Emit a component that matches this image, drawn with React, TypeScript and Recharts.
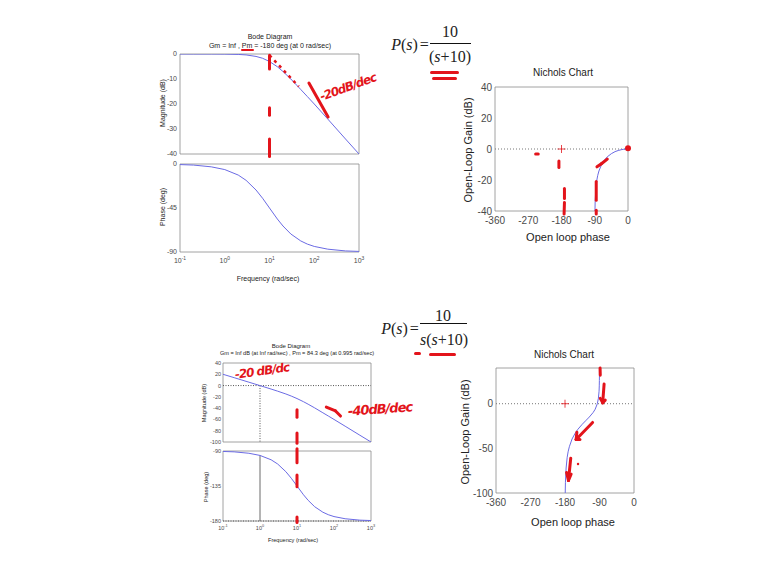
import React from 'react';
import { LineChart, Line, XAxis, YAxis, ReferenceLine, ReferenceArea, ReferenceDot } from 'recharts';

// ---------------- data ----------------
// Plant 1: P(s) = 10/(s+10)
const bodeFreq1 = [0.1, 0.2, 0.5, 1, 2, 3, 5, 7, 10, 15, 20, 30, 50, 70, 100, 200, 500, 1000];
const bodeMag1 = [0, -0.01, -0.01, -0.04, -0.17, -0.37, -0.97, -1.7, -3.0, -5.1, -7.0, -10.0, -14.2, -17.0, -20.0, -26.0, -34.0, -40.0];
const bodePhase1 = [-0.6, -1.1, -2.9, -5.7, -11.3, -16.7, -26.6, -35.0, -45.0, -56.3, -63.4, -71.6, -78.7, -81.9, -84.3, -87.1, -88.9, -89.4];

// Plant 2: P(s) = 10/(s(s+10))
const bodeFreq2 = [0.1, 0.2, 0.5, 1, 2, 3, 5, 7, 10, 15, 20, 30, 50, 70, 100, 200, 500, 1000];
const bodeMag2 = [20, 14.0, 6.0, -0.04, -6.2, -9.9, -14.9, -18.6, -23.0, -28.6, -33.0, -39.5, -48.2, -53.9, -60.0, -72.0, -88.0, -100.0];
const bodePhase2 = [-90.6, -91.1, -92.9, -95.7, -101.3, -106.7, -116.6, -125.0, -135.0, -146.3, -153.4, -161.6, -168.7, -171.9, -174.3, -177.1, -178.9, -179.4];

// Nichols curves (phase, gain)
const nicholsPhase1 = [-0.1, -0.6, -1.1, -2.9, -5.7, -11.3, -16.7, -26.6, -35.0, -45.0, -56.3, -63.4, -71.6, -78.7, -81.9, -84.3, -87.1, -88.9, -89.4];
const nicholsGain1 = [0, 0, -0.01, -0.01, -0.04, -0.17, -0.37, -0.97, -1.7, -3.0, -5.1, -7.0, -10.0, -14.2, -17.0, -20.0, -26.0, -34.0, -40.0];
const nicholsPhase2 = [-90.06, -90.1, -90.3, -90.6, -91.1, -92.9, -95.7, -101.3, -106.7, -116.6, -125.0, -135.0, -146.3, -153.4, -161.6, -168.7, -171.9, -174.3, -177.1, -178.9, -179.4];
const nicholsGain2 = [40, 34, 26, 20, 14.0, 6.0, -0.04, -6.2, -9.9, -14.9, -18.6, -23.0, -28.6, -33.0, -39.5, -48.2, -53.9, -60.0, -72.0, -88.0, -100.0];

// ticks
const bodeTicks = [0.1, 1, 10, 100, 1000];
const bodeTickExp = ['-1', '0', '1', '2', '3'];
const magTicks1 = [0, -10, -20, -30, -40];
const phaseTicks1 = [0, -45, -90];
const magTicks2 = [40, 20, 0, -20, -40, -60, -80, -100];
const phaseTicks2 = [-90, -135, -180];
const nicholsXTicks = [-360, -270, -180, -90, 0];
const nicholsYTicks1 = [40, 20, 0, -20, -40];
const nicholsYTicks2 = [0, -50, -100];

// ---------------- styles ----------------
const BLUE = '#6b6be4';
const RED = '#e3141b';
const FRAME = '#8c8c8c';
const TICK = '#4a4a4a';
const SANS = '"Liberation Sans", Arial, sans-serif';
const SERIF = '"Liberation Serif", "Times New Roman", serif';
const HAND = '"DejaVu Sans", sans-serif';

const bode1 = bodeFreq1.map((w, i) => ({ w, mag: bodeMag1[i], ph: bodePhase1[i] }));
const bode2 = bodeFreq2.map((w, i) => ({ w, mag: bodeMag2[i], ph: bodePhase2[i] }));
const nich1 = nicholsPhase1.map((p, i) => ({ p, g: nicholsGain1[i] }));
const nich2 = nicholsPhase2.map((p, i) => ({ p, g: nicholsGain2[i] }));

type Box = { l: number; t: number; w: number; h: number };
type M = { l: number; t: number; r: number; b: number };

function wrap(b: Box, m: M) {
  return {
    style: { position: 'absolute' as const, left: b.l - m.l, top: b.t - m.t },
    width: b.w + m.l + m.r,
    height: b.h + m.t + m.b,
    margin: { top: m.t, right: m.r, left: 0, bottom: 0 },
  };
}

function T({ x, y, size, children, rotate = 0, color = '#222', family = SANS, style = {} }: any) {
  return (
    <div
      style={{
        position: 'absolute',
        left: x,
        top: y,
        transform: `translate(-50%, -50%) rotate(${rotate}deg)`,
        fontSize: size,
        lineHeight: 1,
        whiteSpace: 'nowrap',
        color,
        fontFamily: family,
        ...style,
      }}
    >
      {children}
    </div>
  );
}

function Bar({ x, y, w, h = 3, color = RED, rotate = 0 }: any) {
  return (
    <div
      style={{
        position: 'absolute',
        left: x,
        top: y,
        width: w,
        height: h,
        background: color,
        borderRadius: h,
        transform: `rotate(${rotate}deg)`,
      }}
    />
  );
}

const makeLogTick = (fs: number) => (props: any) => {
  const { x, y, payload, index } = props;
  const idx = index != null ? index : bodeTicks.indexOf(payload.value);
  return (
    <text x={x} y={y + fs * 0.85} textAnchor="middle" fontSize={fs} fill={TICK} fontFamily={SANS}>
      10
      <tspan dy={-fs * 0.45} fontSize={fs * 0.7}>
        {bodeTickExp[idx]}
      </tspan>
    </text>
  );
};

const Plus = (props: any) => {
  const { cx, cy } = props;
  return (
    <g stroke={RED} strokeWidth={0.8}>
      <line x1={cx - 4} y1={cy} x2={cx + 4} y2={cy} />
      <line x1={cx} y1={cy - 4} x2={cx} y2={cy + 4} />
    </g>
  );
};

// ---------------- annotation positions (data coordinates) ----------------
const redMag1 = [
  [[10, -0.5], [10, -6]],
  [[10, -21.5], [10, -24.5]],
  [[10, -34], [10, -41]],
  [[76, -11.6], [204, -25.2]],
];
const redNich1 = [
  [[-250, -3.2], [-243, -3.2]],
  [[-187, -7.7], [-187, -12]],
  [[-172, -25.5], [-172, -32]],
  [[-172, -34.5], [-173, -42]],
  [[-86, -21], [-86, -33]],
  [[-86, -39.5], [-86, -42]],
  [[-84, -11.5], [-72, -9.5]],
  [[-72, -9.5], [-56, -6.5]],
];
const redMag2 = [
  [[10, -43], [10, -56]],
  [[10, -84], [10, -102]],
  [[62, -38], [110, -45]],
  [[110, -45], [150, -54]],
];
const redPhase2 = [
  [[10, -87], [10, -105]],
  [[10, -121], [10, -136]],
  [[10, -175], [10, -182]],
];
const redNich2 = [
  [[-88.5, 40], [-88, 32]],
  [[-78, 22], [-81.5, 2]],
  [[-81.5, 1], [-88, 6]],
  [[-81.5, 1], [-75, 4]],
  [[-108, -21], [-151, -40]],
  [[-151, -40], [-149, -32]],
  [[-151, -40], [-141, -40]],
  [[-165, -61], [-171, -86]],
  [[-171, -86], [-176, -77]],
  [[-171, -86], [-164, -79]],
];

function redSegs(list: number[][][], w = 3) {
  return list.map((s, i) => (
    <ReferenceLine
      key={'r' + i}
      segment={[{ x: s[0][0], y: s[0][1] }, { x: s[1][0], y: s[1][1] }]}
      stroke={RED}
      strokeWidth={w}
      strokeLinecap="round"
      ifOverflow="visible"
    />
  ));
}

export default function App() {
  const fsB1 = 7;
  const fsB2 = 5.5;
  const fsN = 10;

  const m1 = wrap({ l: 180, t: 54, w: 179, h: 100 }, { l: 24, t: 4, r: 10, b: 4 });
  const p1 = wrap({ l: 180, t: 164, w: 179, h: 88 }, { l: 24, t: 4, r: 10, b: 16 });
  const n1 = wrap({ l: 495, t: 87, w: 133, h: 124 }, { l: 32, t: 6, r: 10, b: 22 });
  const m2 = wrap({ l: 223, t: 363, w: 148, h: 79 }, { l: 20, t: 4, r: 10, b: 4 });
  const p2 = wrap({ l: 223, t: 451, w: 148, h: 70 }, { l: 20, t: 4, r: 10, b: 14 });
  const n2 = wrap({ l: 496, t: 368, w: 138, h: 125 }, { l: 32, t: 6, r: 10, b: 22 });

  const yTick = (fs: number) => ({ fontSize: fs, fill: TICK, fontFamily: SANS });
  const hand = { fontStyle: 'italic', fontWeight: 'bold', letterSpacing: -1 };

  return (
    <div style={{ position: 'absolute', left: 0, top: 0, width: 767, height: 575, background: '#fff', overflow: 'hidden' }}>
      {/* ---------- top Bode ---------- */}
      <T x={270} y={36} size={7}>Bode Diagram</T>
      <T x={270} y={45} size={7}>Gm = Inf ,  Pm = -180 deg (at 0 rad/sec)</T>
      <T x={162} y={103} size={7} rotate={-90}>Magnitude (dB)</T>
      <T x={162} y={207} size={7} rotate={-90}>Phase (deg)</T>
      <T x={268} y={278} size={7}>Frequency  (rad/sec)</T>

      <div style={m1.style}>
        <LineChart width={m1.width} height={m1.height} data={bode1} margin={m1.margin}>
          <XAxis dataKey="w" type="number" scale="log" domain={[0.1, 1000]} ticks={bodeTicks} allowDataOverflow height={4} tick={false} tickLine={false} axisLine={false} />
          <YAxis type="number" domain={[-40, 0]} ticks={magTicks1} interval={0} allowDataOverflow width={24} tick={yTick(fsB1)} tickLine={false} axisLine={false} tickSize={0} tickMargin={3} />
          <ReferenceArea x1={0.1} x2={1000} y1={-40} y2={0} fill="none" stroke={FRAME} strokeWidth={0.8} ifOverflow="visible" />
          <Line dataKey="mag" stroke={BLUE} strokeWidth={1} dot={false} isAnimationActive={false} />
          <ReferenceLine segment={[{ x: 10, y: -0.5 }, { x: 45, y: -13 }]} stroke={RED} strokeWidth={2.5} strokeDasharray="3 4" ifOverflow="visible" />
          {redSegs(redMag1)}
        </LineChart>
      </div>
      <div style={p1.style}>
        <LineChart width={p1.width} height={p1.height} data={bode1} margin={p1.margin}>
          <XAxis dataKey="w" type="number" scale="log" domain={[0.1, 1000]} ticks={bodeTicks} interval={0} allowDataOverflow height={16} tick={makeLogTick(fsB1)} tickLine={false} axisLine={false} tickSize={0} tickMargin={5} />
          <YAxis type="number" domain={[-90, 0]} ticks={phaseTicks1} interval={0} allowDataOverflow width={24} tick={yTick(fsB1)} tickLine={false} axisLine={false} tickSize={0} tickMargin={3} />
          <ReferenceArea x1={0.1} x2={1000} y1={-90} y2={0} fill="none" stroke={FRAME} strokeWidth={0.8} ifOverflow="visible" />
          <Line dataKey="ph" stroke={BLUE} strokeWidth={1} dot={false} isAnimationActive={false} />
        </LineChart>
      </div>
      <Bar x={241} y={49} w={13} h={2} />
      <T x={348} y={87} size={12} rotate={-20} color={RED} family={HAND} style={hand}>-20dB/dec</T>

      {/* ---------- top equation ---------- */}
      <T x={410} y={45} size={16} family={SERIF}><i>P</i>(<i>s</i>)<span style={{ marginLeft: 2 }}>=</span></T>
      <T x={450} y={32} size={16} family={SERIF}>10</T>
      <div style={{ position: 'absolute', left: 430, top: 43, width: 41, height: 1, background: '#111' }} />
      <T x={450} y={57} size={16} family={SERIF}>(<i>s</i>+10)</T>
      <Bar x={430} y={71} w={29} h={3} />
      <Bar x={432} y={77} w={25} h={3} />

      {/* ---------- top Nichols ---------- */}
      <T x={563} y={73} size={fsN}>Nichols Chart</T>
      <T x={568} y={237} size={11}>Open loop phase</T>
      <T x={468} y={150} size={11} rotate={-90}>Open-Loop Gain (dB)</T>
      <div style={n1.style}>
        <LineChart width={n1.width} height={n1.height} data={nich1} margin={n1.margin}>
          <XAxis dataKey="p" type="number" domain={[-360, 0]} ticks={nicholsXTicks} interval={0} allowDataOverflow height={22} tick={yTick(fsN)} tickLine={false} axisLine={false} tickSize={0} tickMargin={6} />
          <YAxis type="number" domain={[-40, 40]} ticks={nicholsYTicks1} interval={0} allowDataOverflow width={32} tick={yTick(fsN)} tickLine={false} axisLine={false} tickSize={0} tickMargin={3} />
          <ReferenceArea x1={-360} x2={0} y1={-40} y2={40} fill="none" stroke={FRAME} strokeWidth={0.8} ifOverflow="visible" />
          <ReferenceLine y={0} stroke="#777" strokeDasharray="1 2" />
          <Line dataKey="g" stroke={BLUE} strokeWidth={1} dot={false} isAnimationActive={false} />
          <ReferenceDot x={-180} y={0} r={4} shape={Plus} ifOverflow="visible" />
          {redSegs(redNich1)}
          <ReferenceDot x={0} y={0.5} r={3} fill={RED} stroke="none" ifOverflow="visible" />
        </LineChart>
      </div>

      {/* ---------- bottom equation ---------- */}
      <T x={400} y={329} size={16} family={SERIF}><i>P</i>(<i>s</i>)<span style={{ marginLeft: 2 }}>=</span></T>
      <T x={443} y={316} size={16} family={SERIF}>10</T>
      <div style={{ position: 'absolute', left: 420, top: 323, width: 47, height: 1, background: '#111' }} />
      <T x={444} y={340} size={16} family={SERIF}><i>s</i>(<i>s</i>+10)</T>
      <Bar x={414} y={352} w={7} h={3} />
      <Bar x={429} y={353} w={27} h={3} />

      {/* ---------- bottom Bode ---------- */}
      <T x={291} y={346} size={6}>Bode Diagram</T>
      <T x={297} y={354} size={5.6}>Gm = Inf dB (at Inf rad/sec) ,  Pm = 84.3 deg (at 0.995 rad/sec)</T>
      <T x={205} y={403} size={5.6} rotate={-90}>Magnitude (dB)</T>
      <T x={207} y={487} size={5.6} rotate={-90}>Phase (deg)</T>
      <T x={293} y={541} size={5.6}>Frequency (rad/sec)</T>

      <div style={m2.style}>
        <LineChart width={m2.width} height={m2.height} data={bode2} margin={m2.margin}>
          <XAxis dataKey="w" type="number" scale="log" domain={[0.1, 1000]} ticks={bodeTicks} allowDataOverflow height={4} tick={false} tickLine={false} axisLine={false} />
          <YAxis type="number" domain={[-100, 40]} ticks={magTicks2} interval={0} allowDataOverflow width={20} tick={yTick(fsB2)} tickLine={false} axisLine={false} tickSize={0} tickMargin={2} />
          <ReferenceArea x1={0.1} x2={1000} y1={-100} y2={40} fill="none" stroke={FRAME} strokeWidth={0.8} ifOverflow="visible" />
          <ReferenceLine y={0} stroke="#555" strokeDasharray="1 1.5" />
          <ReferenceLine segment={[{ x: 1, y: 0 }, { x: 1, y: -100 }]} stroke="#555" strokeDasharray="1 1.5" />
          <Line dataKey="mag" stroke={BLUE} strokeWidth={1} dot={false} isAnimationActive={false} />
          {redSegs(redMag2)}
        </LineChart>
      </div>
      <div style={p2.style}>
        <LineChart width={p2.width} height={p2.height} data={bode2} margin={p2.margin}>
          <XAxis dataKey="w" type="number" scale="log" domain={[0.1, 1000]} ticks={bodeTicks} interval={0} allowDataOverflow height={14} tick={makeLogTick(fsB2)} tickLine={false} axisLine={false} tickSize={0} tickMargin={4} />
          <YAxis type="number" domain={[-180, -90]} ticks={phaseTicks2} interval={0} allowDataOverflow width={20} tick={yTick(fsB2)} tickLine={false} axisLine={false} tickSize={0} tickMargin={2} />
          <ReferenceArea x1={0.1} x2={1000} y1={-180} y2={-90} fill="none" stroke={FRAME} strokeWidth={0.8} ifOverflow="visible" />
          <ReferenceLine y={-180} stroke="#555" strokeDasharray="1 1.5" />
          <ReferenceLine segment={[{ x: 1, y: -95.7 }, { x: 1, y: -180 }]} stroke="#444" strokeWidth={0.8} />
          <Line dataKey="ph" stroke={BLUE} strokeWidth={1} dot={false} isAnimationActive={false} />
          {redSegs(redPhase2)}
        </LineChart>
      </div>
      <T x={262} y={371} size={12} rotate={-8} color={RED} family={HAND} style={hand}>-20 dB/dc</T>
      <T x={380} y={409} size={13} rotate={-4} color={RED} family={HAND} style={hand}>-40dB/dec</T>

      {/* ---------- bottom Nichols ---------- */}
      <T x={564} y={355} size={fsN}>Nichols Chart</T>
      <T x={573} y={522} size={11}>Open loop phase</T>
      <T x={465} y={432} size={11} rotate={-90}>Open-Loop Gain (dB)</T>
      <div style={n2.style}>
        <LineChart width={n2.width} height={n2.height} data={nich2} margin={n2.margin}>
          <XAxis dataKey="p" type="number" domain={[-360, 0]} ticks={nicholsXTicks} interval={0} allowDataOverflow height={22} tick={yTick(fsN)} tickLine={false} axisLine={false} tickSize={0} tickMargin={6} />
          <YAxis type="number" domain={[-100, 40]} ticks={nicholsYTicks2} interval={0} allowDataOverflow width={32} tick={yTick(fsN)} tickLine={false} axisLine={false} tickSize={0} tickMargin={3} />
          <ReferenceArea x1={-360} x2={0} y1={-100} y2={40} fill="none" stroke={FRAME} strokeWidth={0.8} ifOverflow="visible" />
          <ReferenceLine y={0} stroke="#777" strokeDasharray="1 2" />
          <Line dataKey="g" stroke={BLUE} strokeWidth={1} dot={false} isAnimationActive={false} />
          <ReferenceDot x={-180} y={0} r={4} shape={Plus} ifOverflow="visible" />
          {redSegs(redNich2)}
          <ReferenceDot x={-146} y={-67.5} r={1.2} fill={RED} stroke="none" ifOverflow="visible" />
        </LineChart>
      </div>
    </div>
  );
}
